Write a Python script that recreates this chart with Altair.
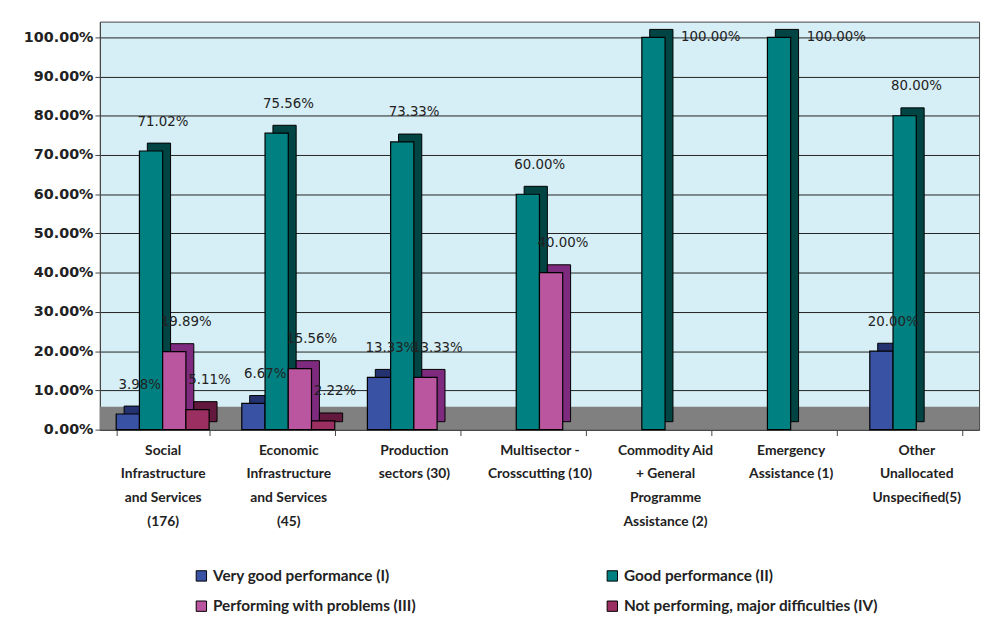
import altair as alt
import pandas as pd

categories = [
    "Social|Infrastructure|and Services|(176)",
    "Economic|Infrastructure|and Services|(45)",
    "Production|sectors (30)",
    "Multisector -|Crosscutting (10)",
    "Commodity Aid|+ General|Programme|Assistance (2)",
    "Emergency|Assistance (1)",
    "Other|Unallocated|Unspecified(5)",
]
series = [
    "Very good performance (I)",
    "Good performance (II)",
    "Performing with problems (III)",
    "Not performing, major difficulties (IV)",
]
very_good = [0.0398, 0.0667, 0.1333, 0.0, 0.0, 0.0, 0.20]
good = [0.7102, 0.7556, 0.7333, 0.60, 1.00, 1.00, 0.80]
problems = [0.1989, 0.1556, 0.1333, 0.40, 0.0, 0.0, 0.0]
not_perf = [0.0511, 0.0222, 0.0, 0.0, 0.0, 0.0, 0.0]
y_ticks = [0.0, 0.1, 0.2, 0.3, 0.4, 0.5, 0.6, 0.7, 0.8, 0.9, 1.0]

colors = ["#3A52A4", "#008080", "#BA55A0", "#9B2F62"]
dark_colors = ["#243370", "#004444", "#7E2A7E", "#62193D"]

rows = []
for vals, s in zip([very_good, good, problems, not_perf], series):
    for c, v in zip(categories, vals):
        rows.append({"category": c, "series": s, "value": v})
df = pd.DataFrame(rows)
df_nz = df[df["value"] > 0]

W, H = 890, 413
p_in, p_out = 0.26, 0.13
step = W / (len(categories) - p_in + 2 * p_out)
bw = step * (1 - p_in)
depth_px = 8

y_scale = alt.Scale(domain=[0, 1.04], nice=False)
y_axis = alt.Axis(format=".2%", values=y_ticks, labelOverlap=False,
                  labelFont="DejaVu Sans", labelFontSize=14.5, labelFontWeight="bold",
                  labelColor="#222", grid=True, gridColor="#222", gridWidth=1,
                  domainColor="#444", tickColor="#444", tickSize=5)

x_enc = alt.X("category:N", sort=categories, title=None,
              scale=alt.Scale(paddingInner=p_in, paddingOuter=p_out),
              axis=alt.Axis(labelExpr="split(datum.label, '|')", labelAngle=0,
                            labelFont="Lato", labelFontSize=14, labelColor="#222",
                            labelLineHeight=24, labelPadding=8, domainColor="#444",
                            tickColor="#444", tickSize=6, tickBand="extent",
                            labelFontWeight="bold", grid=False))
xo_front = alt.XOffset("series:N", sort=series,
                       scale=alt.Scale(domain=series, range=[0, bw], paddingInner=0))
xo_depth = alt.XOffset("series:N", sort=series,
                       scale=alt.Scale(domain=series, range=[depth_px, bw + depth_px], paddingInner=0))
y_enc = alt.Y("value:Q", title=None, scale=y_scale, axis=y_axis)

base = alt.Chart(df_nz)

floor = alt.Chart(pd.DataFrame({"lo": [0.0], "hi": [0.058]})).mark_rect(color="#808080").encode(
    y=alt.Y("lo:Q", title=None, scale=y_scale, axis=y_axis), y2="hi:Q"
)

depth = base.mark_bar(yOffset=-depth_px, stroke="black", strokeWidth=1).encode(
    x=x_enc, xOffset=xo_depth, y=y_enc,
    color=alt.Color("series:N", sort=series,
                    scale=alt.Scale(domain=series, range=dark_colors), legend=None),
)

bars = base.mark_bar(stroke="black", strokeWidth=1.2).encode(
    x=x_enc, xOffset=xo_front, y=y_enc,
    color=alt.Color("series:N", sort=series,
                    scale=alt.Scale(domain=series, range=colors),
                    legend=alt.Legend(title=None, orient="none", legendX=95, legendY=553,
                                      columns=2, direction="horizontal",
                                      symbolType="square", symbolSize=110,
                                      symbolStrokeColor="black", symbolStrokeWidth=1,
                                      labelFont="Lato", labelFontSize=15.5, labelFontWeight="bold",
                                      labelColor="#222",
                                      columnPadding=190, rowPadding=14, labelLimit=400)),
)

labels_part = base.transform_filter("datum.value < 1").transform_calculate(
    ly="datum.value + 0.075"
).mark_text(dx=12, font="DejaVu Sans", fontSize=13.5, color="#222", baseline="middle").encode(
    x=x_enc, xOffset=xo_front, y=alt.Y("ly:Q", scale=y_scale, axis=y_axis, title=None),
    text=alt.Text("value:Q", format=".2%"),
)

labels_full = base.transform_filter("datum.value >= 1").mark_text(
    dx=58, font="DejaVu Sans", fontSize=13.5, color="#222", baseline="middle"
).encode(
    x=x_enc, xOffset=xo_front, y=alt.Y("value:Q", scale=y_scale, axis=y_axis, title=None),
    text=alt.Text("value:Q", format=".2%"),
)

chart = alt.layer(floor, depth, bars, labels_part, labels_full).resolve_scale(
    color="independent", xOffset="independent"
).properties(
    width=W, height=H,
    background="white",
    padding={"left": 15, "top": 10, "right": 5, "bottom": 5},
).configure_view(fill="#D6EEF5", stroke="#444", strokeWidth=1)

chart.save("out.html", embed_options={"renderer": "svg", "actions": False})
